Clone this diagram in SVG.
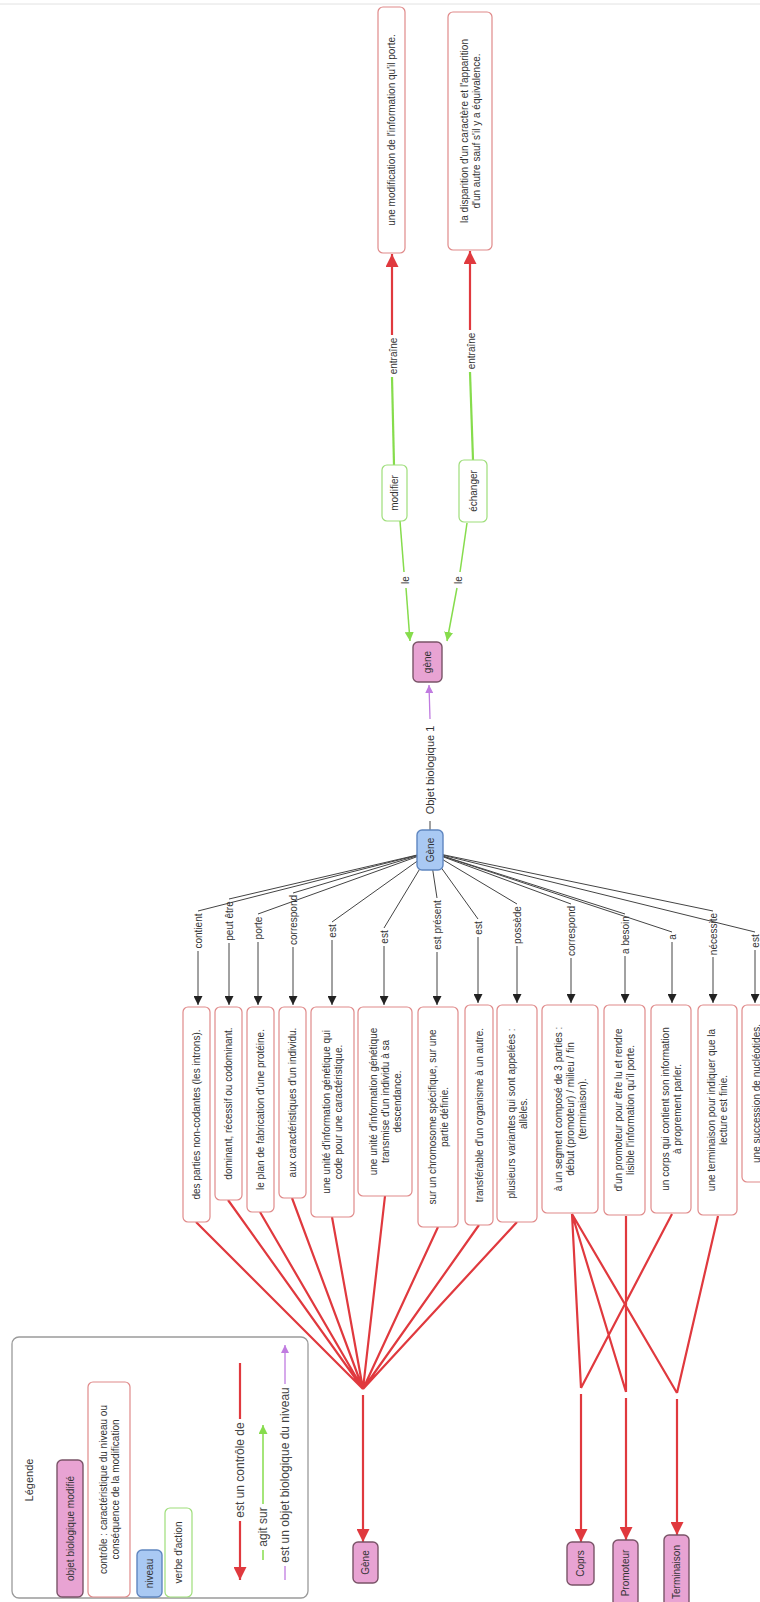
<svg xmlns="http://www.w3.org/2000/svg" width="760" height="1602" viewBox="0 0 760 1602">
<style>
text{font-family:"Liberation Sans",Arial,sans-serif;font-size:10px;fill:#333;text-anchor:middle}
.el{font-size:10px;fill:#333}
.ob{font-size:11px}
.lg{font-size:12px;fill:#444}
.ctl{fill:#fff;stroke:#e08a8a;stroke-width:1.2}
.verb{fill:#fff;stroke:#9ede7a;stroke-width:1.2}
.obj{fill:#e8a3d3;stroke:#7a5468;stroke-width:1.4}
.lvl{fill:#a9c9f3;stroke:#5f86c0;stroke-width:1.4}
.blk{fill:none;stroke:#444;stroke-width:1}
.red{fill:none;stroke:#e0393e;stroke-width:2.2}
.grn{fill:none;stroke:#86dc4c;stroke-width:1.5}
.grnb{fill:none;stroke:#86dc4c;stroke-width:2.2}
.pur{fill:none;stroke:#c07be0;stroke-width:1.3}
</style>
<defs>
<marker id="ab" viewBox="0 0 10 10" refX="10" refY="5" markerWidth="9" markerHeight="9" markerUnits="userSpaceOnUse" orient="auto"><path d="M0,0 L10,5 L0,10 z" fill="#222"/></marker>
<marker id="ar" viewBox="0 0 10 10" refX="10" refY="5" markerWidth="13" markerHeight="13" markerUnits="userSpaceOnUse" orient="auto"><path d="M0,0 L10,5 L0,10 z" fill="#e0393e"/></marker>
<marker id="ag" viewBox="0 0 10 10" refX="10" refY="5" markerWidth="9" markerHeight="9" markerUnits="userSpaceOnUse" orient="auto"><path d="M0,0 L10,5 L0,10 z" fill="#86dc4c"/></marker>
<marker id="ap" viewBox="0 0 10 10" refX="10" refY="5" markerWidth="8" markerHeight="8" markerUnits="userSpaceOnUse" orient="auto"><path d="M0,0 L10,5 L0,10 z" fill="#c07be0"/></marker>
</defs>
<rect x="0" y="0" width="760" height="1602" fill="#fff"/>
<line x1="0" y1="4" x2="760" y2="4" stroke="#e2e2e2" stroke-width="1"/>

<g id="connectors">
<path class="blk" d="M430,852 L198,911"/><path class="blk" d="M198,951 L198,1005" marker-end="url(#ab)"/>
<path class="blk" d="M430,852 L229,899"/><path class="blk" d="M229,943 L229,1005" marker-end="url(#ab)"/>
<path class="blk" d="M430,852 L258,914"/><path class="blk" d="M258,942 L258,1005" marker-end="url(#ab)"/>
<path class="blk" d="M430,852 L293,893"/><path class="blk" d="M293,947 L293,1005" marker-end="url(#ab)"/>
<path class="blk" d="M430,852 L332,922"/><path class="blk" d="M332,940 L332,1005" marker-end="url(#ab)"/>
<path class="blk" d="M430,852 L384,928"/><path class="blk" d="M384,946 L384,1005" marker-end="url(#ab)"/>
<path class="blk" d="M430,852 L437,898"/><path class="blk" d="M437,952 L437,1005" marker-end="url(#ab)"/>
<path class="blk" d="M430,852 L478,919"/><path class="blk" d="M478,937 L478,1003" marker-end="url(#ab)"/>
<path class="blk" d="M430,852 L517,904"/><path class="blk" d="M517,946 L517,1003" marker-end="url(#ab)"/>
<path class="blk" d="M430,852 L571,904"/><path class="blk" d="M571,958 L571,1003" marker-end="url(#ab)"/>
<path class="blk" d="M430,852 L625,914"/><path class="blk" d="M625,956 L625,1003" marker-end="url(#ab)"/>
<path class="blk" d="M430,852 L672,932"/><path class="blk" d="M672,942 L672,1003" marker-end="url(#ab)"/>
<path class="blk" d="M430,852 L713,911"/><path class="blk" d="M713,957 L713,1003" marker-end="url(#ab)"/>
<path class="blk" d="M430,852 L755,932"/><path class="blk" d="M755,950 L755,1003" marker-end="url(#ab)"/>

<path class="blk" d="M430,830 L430,821"/>
<path class="pur" d="M430,719 L429,685" marker-end="url(#ap)"/>

<path class="grn" d="M400,521 L404,572"/><path class="grn" d="M406,588 L410,641" marker-end="url(#ag)"/>
<path class="grn" d="M467,523 L460,572"/><path class="grn" d="M457,588 L447,641" marker-end="url(#ag)"/>

<path class="grnb" d="M394,465 L392,377"/><path class="red" d="M392,335 L392,254" marker-end="url(#ar)"/>
<path class="grnb" d="M473,460 L470,372"/><path class="red" d="M470,330 L470,251" marker-end="url(#ar)"/>

<path class="red" d="M196,1222 L363,1389 M228,1200 L363,1389 M260,1212 L363,1389 M292,1198 L363,1389 M332,1217 L363,1389 M385,1196 L363,1389 M438,1227 L363,1389 M479,1225 L363,1389 M517,1222 L363,1389"/>
<path class="red" d="M363,1395 L363,1542" marker-end="url(#ar)"/>

<path class="red" d="M572,1214 L581,1388 M672,1214 L581,1388 M572,1214 L626,1392 M626,1216 L626,1392 M572,1214 L677,1393 M718,1216 L677,1393"/>
<path class="red" d="M581,1394 L581,1542" marker-end="url(#ar)"/>
<path class="red" d="M626,1398 L626,1540" marker-end="url(#ar)"/>
<path class="red" d="M677,1399 L677,1535" marker-end="url(#ar)"/>
</g>

<g id="edge-labels">
<text class="el" transform="translate(198,931) rotate(-90)" y="3.5">contient</text>
<text class="el" transform="translate(229,921) rotate(-90)" y="3.5">peut être</text>
<text class="el" transform="translate(258,928) rotate(-90)" y="3.5">porte</text>
<text class="el" transform="translate(293,920) rotate(-90)" y="3.5">correspond</text>
<text class="el" transform="translate(332,931) rotate(-90)" y="3.5">est</text>
<text class="el" transform="translate(384,937) rotate(-90)" y="3.5">est</text>
<text class="el" transform="translate(437,925) rotate(-90)" y="3.5">est présent</text>
<text class="el" transform="translate(478,928) rotate(-90)" y="3.5">est</text>
<text class="el" transform="translate(517,925) rotate(-90)" y="3.5">possède</text>
<text class="el" transform="translate(571,931) rotate(-90)" y="3.5">correspond</text>
<text class="el" transform="translate(625,935) rotate(-90)" y="3.5">a besoin</text>
<text class="el" transform="translate(672,937) rotate(-90)" y="3.5">a</text>
<text class="el" transform="translate(713,934) rotate(-90)" y="3.5">nécessite</text>
<text class="el" transform="translate(755,941) rotate(-90)" y="3.5">est</text>
<text class="el ob" transform="translate(430,770) rotate(-90)" y="4">Objet biologique 1</text>
<text class="el" transform="translate(405,580) rotate(-90)" y="3.5">le</text>
<text class="el" transform="translate(458,580) rotate(-90)" y="3.5">le</text>
<text class="el" transform="translate(393,356) rotate(-90)" y="3.5">entraîne</text>
<text class="el" transform="translate(471,351) rotate(-90)" y="3.5">entraîne</text>
</g>

<g id="n-modif-info"><rect class="ctl" x="378" y="7" width="27" height="246" rx="5"/>
<text transform="translate(391.5,130) rotate(-90)"><tspan x="0" y="3.5">une modification de l'information qu'il porte.</tspan></text></g>
<g id="n-disparition"><rect class="ctl" x="448" y="12" width="44" height="238" rx="5"/>
<text transform="translate(470,131) rotate(-90)"><tspan x="0" y="-2.5">la disparition d'un caractère et l'apparition</tspan><tspan x="0" y="9.5">d'un autre sauf s'il y a équivalence.</tspan></text></g>
<g id="n-modifier"><rect class="verb" x="382" y="465" width="25" height="56" rx="5"/>
<text transform="translate(394.5,493) rotate(-90)"><tspan x="0" y="3.5">modifier</tspan></text></g>
<g id="n-echanger"><rect class="verb" x="459" y="460" width="28" height="62" rx="5"/>
<text transform="translate(473,491) rotate(-90)"><tspan x="0" y="3.5">échanger</tspan></text></g>
<g id="n-gene-mod"><rect class="obj" x="413" y="642" width="29" height="40" rx="5"/>
<text transform="translate(427.5,662) rotate(-90)"><tspan x="0" y="3.5">gène</tspan></text></g>
<g id="n-gene-niveau"><rect class="lvl" x="417" y="830" width="26" height="40" rx="5"/>
<text transform="translate(430,850) rotate(-90)"><tspan x="0" y="3.5">Gène</tspan></text></g>

<g id="n1"><rect class="ctl" x="183" y="1007" width="27" height="215" rx="5"/>
<text transform="translate(196.5,1114.5) rotate(-90)"><tspan x="0" y="3.5">des parties non-codantes (les introns).</tspan></text></g>
<g id="n2"><rect class="ctl" x="215" y="1007" width="27" height="193" rx="5"/>
<text transform="translate(228.5,1103.5) rotate(-90)"><tspan x="0" y="3.5">dominant, récessif ou codominant.</tspan></text></g>
<g id="n3"><rect class="ctl" x="247" y="1007" width="27" height="205" rx="5"/>
<text transform="translate(260.5,1109.5) rotate(-90)"><tspan x="0" y="3.5">le plan de fabrication d'une protéine.</tspan></text></g>
<g id="n4"><rect class="ctl" x="279" y="1007" width="27" height="191" rx="5"/>
<text transform="translate(292.5,1102.5) rotate(-90)"><tspan x="0" y="3.5">aux caractéristiques d'un individu.</tspan></text></g>
<g id="n5"><rect class="ctl" x="311" y="1007" width="43" height="210" rx="5"/>
<text transform="translate(332.5,1112) rotate(-90)"><tspan x="0" y="-2.5">une unité d'information génétique qui</tspan><tspan x="0" y="9.5">code pour une caractéristique.</tspan></text></g>
<g id="n6"><rect class="ctl" x="358" y="1007" width="54" height="189" rx="5"/>
<text transform="translate(385,1101.5) rotate(-90)"><tspan x="0" y="-8.5">une unité d'information génétique</tspan><tspan x="0" y="3.5">transmise d'un individu à sa</tspan><tspan x="0" y="15.5">descendance.</tspan></text></g>
<g id="n7"><rect class="ctl" x="418" y="1007" width="40" height="220" rx="5"/>
<text transform="translate(438,1117) rotate(-90)"><tspan x="0" y="-2.5">sur un chromosome spécifique, sur une</tspan><tspan x="0" y="9.5">partie définie.</tspan></text></g>
<g id="n8"><rect class="ctl" x="465" y="1005" width="28" height="220" rx="5"/>
<text transform="translate(479,1115) rotate(-90)"><tspan x="0" y="3.5">transférable d'un organisme à un autre.</tspan></text></g>
<g id="n9"><rect class="ctl" x="497" y="1005" width="40" height="217" rx="5"/>
<text transform="translate(517,1113.5) rotate(-90)"><tspan x="0" y="-2.5">plusieurs variantes qui sont appelées :</tspan><tspan x="0" y="9.5">allèles.</tspan></text></g>
<g id="n10"><rect class="ctl" x="542" y="1005" width="56" height="208" rx="5"/>
<text transform="translate(570,1109) rotate(-90)"><tspan x="0" y="-8.5">à un segment composé de 3 parties :</tspan><tspan x="0" y="3.5">début (promoteur) / milieu / fin</tspan><tspan x="0" y="15.5">(terminaison).</tspan></text></g>
<g id="n11"><rect class="ctl" x="604" y="1005" width="41" height="210" rx="5"/>
<text transform="translate(624.5,1110) rotate(-90)"><tspan x="0" y="-2.5">d'un promoteur pour être lu et rendre</tspan><tspan x="0" y="9.5">lisible l'information qu'il porte.</tspan></text></g>
<g id="n12"><rect class="ctl" x="651" y="1005" width="40" height="208" rx="5"/>
<text transform="translate(671,1109) rotate(-90)"><tspan x="0" y="-2.5">un corps qui contient son information</tspan><tspan x="0" y="9.5">à proprement parler.</tspan></text></g>
<g id="n13"><rect class="ctl" x="698" y="1005" width="39" height="210" rx="5"/>
<text transform="translate(717.5,1110) rotate(-90)"><tspan x="0" y="-2.5">une terminaison pour indiquer que la</tspan><tspan x="0" y="9.5">lecture est finie.</tspan></text></g>
<g id="n14"><rect class="ctl" x="742" y="1005" width="28" height="177" rx="5"/>
<text transform="translate(756,1093.5) rotate(-90)"><tspan x="0" y="3.5">une succession de nucléotides.</tspan></text></g>

<g id="n-gene-bas"><rect class="obj" x="353" y="1542" width="25" height="41" rx="5"/>
<text transform="translate(365.5,1562.5) rotate(-90)"><tspan x="0" y="3.5">Gène</tspan></text></g>
<g id="n-coprs"><rect class="obj" x="567" y="1542" width="27" height="43" rx="5"/>
<text transform="translate(580.5,1563.5) rotate(-90)"><tspan x="0" y="3.5">Coprs</tspan></text></g>
<g id="n-promoteur"><rect class="obj" x="613" y="1540" width="25" height="66" rx="5"/>
<text transform="translate(625.5,1573) rotate(-90)"><tspan x="0" y="3.5">Promoteur</tspan></text></g>
<g id="n-terminaison"><rect class="obj" x="664" y="1535" width="25" height="74" rx="5"/>
<text transform="translate(676.5,1572) rotate(-90)"><tspan x="0" y="3.5">Terminaison</tspan></text></g>

<g id="legend">
<rect x="12" y="1337" width="296" height="261" rx="7" fill="#fff" stroke="#9a9a9a" stroke-width="1.3"/>
<text transform="translate(29,1480) rotate(-90)" style="font-size:11px"><tspan x="0" y="4">Légende</tspan></text>
<rect class="obj" x="57" y="1460" width="26" height="137" rx="5"/>
<text transform="translate(70,1528.5) rotate(-90)"><tspan x="0" y="3.5">objet biologique modifié</tspan></text>
<rect class="ctl" x="88" y="1382" width="42" height="215" rx="5"/>
<text transform="translate(109,1489.5) rotate(-90)"><tspan x="0" y="-2.5">contrôle : caractéristique du niveau ou</tspan><tspan x="0" y="9.5">conséquence de la modification</tspan></text>
<rect class="lvl" x="137" y="1550" width="25" height="47" rx="5"/>
<text transform="translate(149.5,1573.5) rotate(-90)"><tspan x="0" y="3.5">niveau</tspan></text>
<rect class="verb" x="165" y="1508" width="27" height="89" rx="5"/>
<text transform="translate(178.5,1552.5) rotate(-90)"><tspan x="0" y="3.5">verbe d'action</tspan></text>
<path class="red" d="M240,1363 L240,1419"/><path class="red" d="M240,1521 L240,1580" marker-end="url(#ar)"/>
<text class="lg" transform="translate(240,1470) rotate(-90)" y="4">est un contrôle de</text>
<path class="grn" d="M263,1560 L263,1550"/><path class="grn" d="M263,1504 L263,1425" marker-end="url(#ag)"/>
<text class="lg" transform="translate(263,1527) rotate(-90)" y="4">agit sur</text>
<path class="pur" d="M285,1580 L285,1566"/><path class="pur" d="M285,1384 L285,1345" marker-end="url(#ap)"/>
<text class="lg" transform="translate(285,1475) rotate(-90)" y="4">est un objet biologique du niveau</text>
</g>
</svg>
